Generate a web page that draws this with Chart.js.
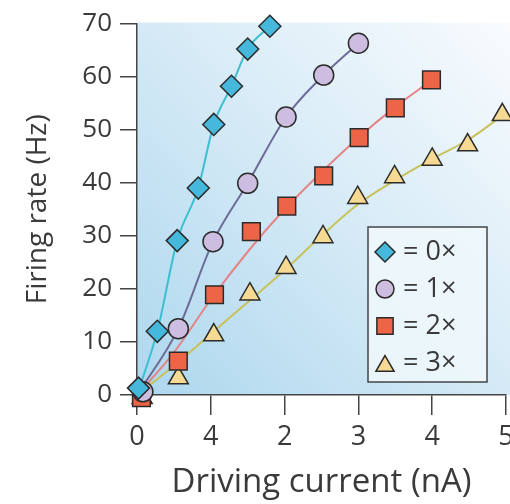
<!DOCTYPE html>
<html>
<head>
<meta charset="utf-8">
<script src="https://cdn.jsdelivr.net/npm/chart.js@4.4.0/dist/chart.umd.min.js"></script>
<style>
  html, body { margin: 0; padding: 0; overflow: hidden; background: #fff; }
  #wrap { width: 520px; height: 504px; }
</style>
</head>
<body>
<div id="wrap"><canvas id="rateChart"></canvas></div>
<script>
// tick labels as printed on the figure
const xTickLabels = ['0', '4', '2', '3', '4', '5'];
const legendLabels = ['= 0×', '= 1×', '= 2×', '= 3×'];

// measured points (driving current nA, firing rate Hz)
const current0x = [0.02, 0.275, 0.545, 0.83, 1.04, 1.28, 1.50, 1.80];
const rate0x    = [1.3, 12.0, 29.1, 39.0, 51.0, 58.2, 65.2, 69.5];
const current1x = [0.08, 0.56, 1.03, 1.50, 2.02, 2.53, 3.00];
const rate1x    = [0.6, 12.5, 28.9, 39.9, 52.4, 60.3, 66.3];
const current2x = [0.06, 0.56, 1.05, 1.55, 2.03, 2.53, 3.01, 3.50, 3.99];
const rate2x    = [-0.5, 6.4, 18.9, 30.8, 35.6, 41.3, 48.5, 54.1, 59.4];
const current3x = [0.07, 0.56, 1.04, 1.53, 2.02, 2.52, 2.99, 3.49, 4.00, 4.48, 4.95];
const rate3x    = [-0.5, 3.2, 11.3, 19.0, 24.0, 29.8, 37.2, 41.1, 44.4, 47.1, 52.8];

// fitted curves
const fitCurrent0x = [0, 0.275, 0.545, 0.83, 1.04, 1.28, 1.50, 1.80];
const fitRate0x    = [0, 12.0, 29.1, 39.0, 51.0, 58.2, 65.2, 69.5];
const fitCurrent1x = [0, 0.56, 1.03, 1.50, 2.02, 2.53, 3.00];
const fitRate1x    = [0, 12.5, 28.9, 39.9, 52.4, 60.3, 66.3];
const fitCurrent2x = [0, 0.5, 1.0, 1.5, 2.0, 2.5, 3.0, 3.5, 4.0];
const fitRate2x    = [0, 8.0, 18.0, 27.0, 35.0, 42.0, 48.5, 54.3, 59.4];
const fitCurrent3x = [0, 0.5, 1.0, 1.5, 2.0, 2.5, 3.0, 3.5, 4.0, 4.5, 5.0];
const fitRate3x    = [0, 5.5, 11.5, 17.5, 23.5, 30.0, 36.0, 40.5, 44.5, 48.2, 53.2];

const pairs = (xs, ys) => xs.map((x, i) => ({x: x, y: ys[i]}));

const series = [
    {pts: pairs(current0x, rate0x), fit: pairs(fitCurrent0x, fitRate0x), style: 'rectRot', r: 11, fill: '#45b8dc', line: '#3cbfd2'},
    {pts: pairs(current1x, rate1x), fit: pairs(fitCurrent1x, fitRate1x), style: 'circle', r: 10, fill: '#cdbde0', line: '#6e6a98'},
    {pts: pairs(current2x, rate2x), fit: pairs(fitCurrent2x, fitRate2x), style: 'rect', r: 12.5, fill: '#ee6446', line: '#e48486'},
    {pts: pairs(current3x, rate3x), fit: pairs(fitCurrent3x, fitRate3x), style: 'triangle', r: 11.5, fill: '#f6d992', line: '#c8c25a'}
];

const datasets = [];
series.forEach(s => {
    datasets.push({
        data: s.fit, showLine: true, pointRadius: 0, borderColor: s.line,
        borderWidth: 2, cubicInterpolationMode: 'monotone', order: 2, clip: false
    });
    datasets.push({
        data: s.pts, showLine: false, pointStyle: s.style, pointRadius: s.r,
        pointBackgroundColor: s.fill, pointBorderColor: '#2b2b2b', pointBorderWidth: 1.5,
        order: 1, clip: false
    });
});

const panelBackground = {
    id: 'panelBackground',
    beforeDraw(chart) {
        const {ctx, chartArea} = chart;
        const g = ctx.createLinearGradient(chart.width, chartArea.top, chartArea.left, chartArea.bottom);
        g.addColorStop(0, '#fafcfe');
        g.addColorStop(0.45, '#d9ecf7');
        g.addColorStop(1, '#add7ee');
        ctx.save();
        ctx.fillStyle = g;
        ctx.fillRect(chartArea.left, chartArea.top - 1, chart.width - chartArea.left, chartArea.bottom - chartArea.top + 1);
        ctx.restore();
    }
};

const boxLegend = {
    id: 'boxLegend',
    afterDatasetsDraw(chart) {
        const ctx = chart.ctx;
        ctx.save();
        ctx.fillStyle = 'rgba(240, 248, 252, 0.85)';
        ctx.fillRect(368, 227, 119, 155);
        ctx.strokeStyle = '#444';
        ctx.lineWidth = 1.5;
        ctx.strokeRect(368, 227, 119, 155);
        const rows = [252, 289, 326, 363];
        series.forEach((s, i) => {
            ctx.fillStyle = s.fill;
            ctx.strokeStyle = '#2b2b2b';
            ctx.lineWidth = 1.5;
            Chart.helpers.drawPoint(ctx, {pointStyle: s.style, radius: s.r - 1, rotation: 0, borderWidth: 1.5}, 385, rows[i] + (s.style === 'triangle' ? 3 : 0));
            ctx.fillStyle = '#3a3a3a';
            ctx.font = '27px "Open Sans"';
            ctx.textBaseline = 'middle';
            ctx.fillText(legendLabels[i], 403, rows[i]);
        });
        ctx.restore();
    }
};

new Chart(document.getElementById('rateChart'), {
    type: 'scatter',
    data: {datasets: datasets},
    plugins: [panelBackground, boxLegend],
    options: {
        responsive: true,
        maintainAspectRatio: false,
        animation: false,
        layout: {padding: {left: 0, top: 21, right: 13, bottom: 0}},
        plugins: {legend: {display: false}, tooltip: {enabled: false}},
        scales: {
            x: {
                type: 'linear', min: 0, max: 5,
                afterFit: scale => { scale.height = 109; },
                ticks: {
                    stepSize: 1, padding: 6, color: '#3a3a3a',
                    font: {family: 'Open Sans', size: 27},
                    callback: (v, i) => xTickLabels[i]
                },
                grid: {drawOnChartArea: false, drawTicks: true, tickLength: 20, color: '#444', lineWidth: 1.5},
                border: {display: true, color: '#444', width: 1.5},
                title: {
                    display: true, text: 'Driving current (nA)', color: '#3a3a3a',
                    font: {family: 'Open Sans', size: 33}, padding: {top: 0, bottom: 2}
                }
            },
            y: {
                min: 0, max: 70,
                afterFit: scale => { scale.width = 137; },
                ticks: {
                    stepSize: 10, padding: 8, color: '#3a3a3a',
                    font: {family: 'Open Sans', size: 26}
                },
                grid: {drawOnChartArea: false, drawTicks: true, tickLength: 17, color: '#444', lineWidth: 1.5},
                border: {display: true, color: '#444', width: 1.5},
                title: {
                    display: true, text: 'Firing rate (Hz)', color: '#3a3a3a',
                    font: {family: 'Open Sans', size: 28}, padding: {top: 21, bottom: 0}
                }
            }
        }
    }
});
</script>
</body>
</html>
